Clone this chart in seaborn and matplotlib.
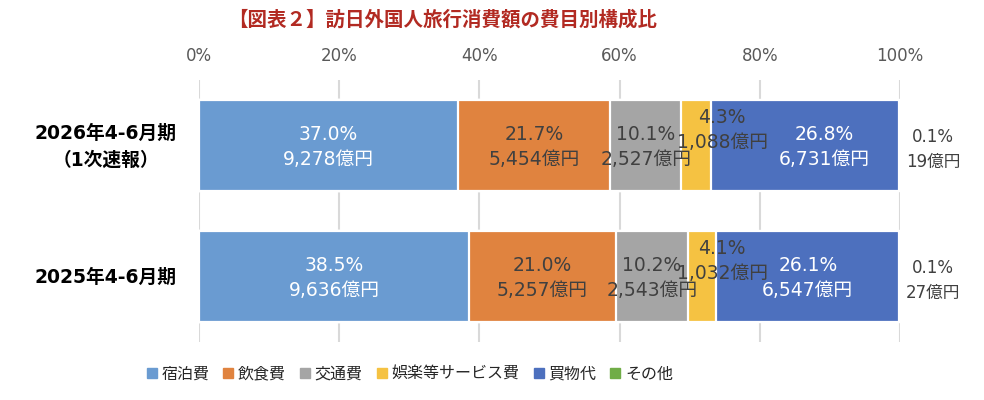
import pandas as pd
import numpy as np
import seaborn as sns
from matplotlib import pyplot as plt
from matplotlib import transforms
from matplotlib.lines import Line2D

periods = ['2026年4-6月期\n（1次速報）', '2025年4-6月期']
categories = ['宿泊費', '飲食費', '交通費', '娯楽等サービス費', '買物代', 'その他']
share_2026 = [37.0, 21.7, 10.1, 4.3, 26.8, 0.1]
share_2025 = [38.5, 21.0, 10.2, 4.1, 26.1, 0.1]
amount_2026 = ['9,278', '5,454', '2,527', '1,088', '6,731', '19']
amount_2025 = ['9,636', '5,257', '2,543', '1,032', '6,547', '27']
colors = ['#6A9BD1', '#E0833F', '#A5A5A5', '#F5C242', '#4D70BE', '#70AD47']
text_colors = ['white', '#404040', '#404040', '#404040', 'white', '#404040']

sns.set_theme(style='white')
plt.rcParams['font.family'] = ['DejaVu Sans', 'Noto Sans CJK JP']

rows = []
for p, shares, amounts in [(periods[0], share_2026, amount_2026), (periods[1], share_2025, amount_2025)]:
    for c, s, a in zip(categories, shares, amounts):
        rows.append({'period': p, 'category': c, 'share': s, 'amount': a})
df = pd.DataFrame(rows)
df['cum'] = df.groupby('period')['share'].cumsum()
df['mid'] = df['cum'] - df['share'] / 2

fig = plt.figure(figsize=(9.84, 4.0), dpi=100)
ax = fig.add_axes([0.2022, 0.145, 0.7124, 0.655])

# stacked bars: draw cumulative totals from the last category back to the first
for cat, col in reversed(list(zip(categories, colors))):
    sub = df[df['category'] == cat]
    sns.barplot(data=sub, x='cum', y='period', order=periods, color=col, orient='h', saturation=1,
                width=0.70, edgecolor='white', linewidth=1.6, errorbar=None, ax=ax)

ax.set_xlim(0, 100)
ax.set_ylim(1.5, -0.5)
ax.xaxis.tick_top()
ax.set_xticks(np.arange(0, 101, 20))
ax.set_xticklabels(['{}%'.format(t) for t in range(0, 101, 20)], fontsize=12, color='#595959')
ax.tick_params(axis='x', length=0, pad=11)
ax.set_yticks([])
ax.set_xlabel('')
ax.set_ylabel('')
ax.grid(axis='x', color='#D9D9D9', linewidth=1.5)
ax.set_axisbelow(True)
for s in ax.spines.values():
    s.set_visible(False)

# manual nudges of some labels (Excel moved them)
nudge = {(0, 3): (3.7, -0.135), (1, 3): (2.9, -0.13), (0, 4): (2.7, 0.0)}
for i, p in enumerate(periods):
    sub = df[df['period'] == p].reset_index(drop=True)
    for j, r in sub.iterrows():
        txt = '{:.1f}%\n{}億円'.format(r['share'], r['amount'])
        if r['category'] == 'その他':
            ax.text(104.7, i + 0.03, txt, ha='center', va='center', fontsize=12,
                    color='#404040', linespacing=1.45, clip_on=False)
            continue
        dx, dy = nudge.get((i, j), (0, 0))
        ax.text(r['mid'] + dx, i + 0.015 + dy, txt, ha='center', va='center', fontsize=13.5,
                color=text_colors[j], linespacing=1.4)

trans = transforms.blended_transform_factory(fig.transFigure, ax.transData)
for i, p in enumerate(periods):
    ax.text(106 / 984, i + 0.01, p, transform=trans, ha='center', va='center',
            fontsize=13.5, fontweight='bold', color='black', linespacing=1.55)

fig.text(443 / 984, 1 - 20 / 400, '【図表２】訪日外国人旅行消費額の費目別構成比', ha='center', va='center',
         fontsize=14, fontweight='bold', color='#B22A22')

handles = [Line2D([0], [0], marker='s', linestyle='none', markersize=6.5, color=c) for c in colors]
fig.legend(handles, categories, loc='center', bbox_to_anchor=(410 / 984, 1 - 374 / 400), ncol=6,
           frameon=False, fontsize=11.5, handlelength=0.6, handletextpad=0.3, columnspacing=0.9)

plt.savefig('out.png', dpi=100)
